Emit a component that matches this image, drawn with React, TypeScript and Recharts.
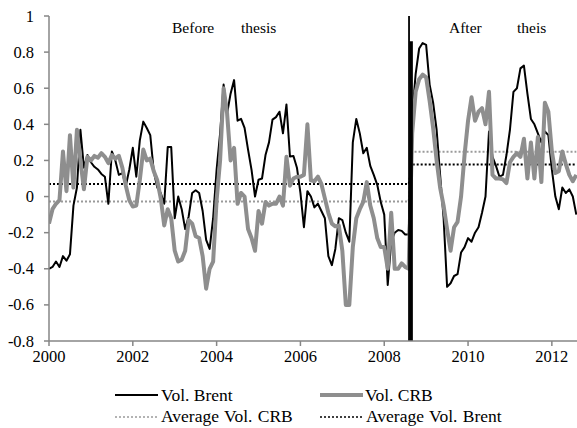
import React from 'react';
import { LineChart, Line, XAxis, YAxis, ReferenceLine } from 'recharts';

const SERIF = "'Liberation Serif', 'Times New Roman', serif";

// Monthly observations, Jan 2000 (index 0) .. Aug 2012 (index 151)
const brentVol: number[] = [
  -0.40, -0.39, -0.36, -0.39, -0.33, -0.355, -0.32, -0.05, 0.05, 0.37,
  0.16, 0.23, 0.19, 0.165, 0.15, 0.125, 0.11, -0.04, 0.25, 0.20,
  0.12, 0.13, 0.06, 0.15, 0.27, 0.11, 0.31, 0.415, 0.38, 0.34,
  0.14, 0.05, 0.02, -0.04, 0.274, 0.274, -0.12, 0.0, -0.07, -0.18,
  -0.11, 0.02, 0.035, 0.02, -0.08, -0.24, -0.29, -0.12, 0.15, 0.35,
  0.62, 0.46, 0.57, 0.645, 0.42, 0.43, 0.38, 0.26, 0.148, 0.0,
  0.093, 0.10, 0.23, 0.30, 0.426, 0.44, 0.47, 0.35, 0.51, 0.222,
  0.225, 0.16, 0.02, -0.17, 0.03, 0.0, -0.06, -0.04, -0.08, -0.12,
  -0.33, -0.38, -0.29, -0.12, -0.13, -0.20, -0.25, 0.30, 0.43, 0.35,
  0.24, 0.27, 0.17, 0.12, 0.065, -0.03, -0.10, -0.49, -0.25, -0.20,
  -0.185, -0.19, -0.21, -0.21, 0.45, 0.68, 0.82, 0.85, 0.84, 0.62,
  0.52, 0.37, 0.12, -0.12, -0.50, -0.48, -0.44, -0.43, -0.31, -0.28,
  -0.23, -0.25, -0.20, -0.17, -0.09, 0.0, 0.36, 0.22, 0.17, 0.11,
  0.12, 0.23, 0.37, 0.58, 0.60, 0.71, 0.725, 0.57, 0.43, 0.40,
  0.35, 0.30, 0.36, 0.34, 0.15, 0.0, -0.07, 0.05, 0.02, 0.04,
  0.0, -0.1,
];

const crbVol: number[] = [
  -0.15, -0.07, -0.04, -0.02, 0.25, 0.03, 0.34, 0.05, 0.37, 0.20,
  0.04, 0.22, 0.20, 0.225, 0.215, 0.24, 0.22, 0.185, 0.23, 0.21,
  0.226, 0.16, 0.06, -0.02, -0.055, -0.05, 0.09, 0.26, 0.20, 0.21,
  0.14, 0.09, -0.01, -0.16, -0.07, -0.12, -0.30, -0.36, -0.35, -0.30,
  -0.13, -0.15, -0.22, -0.23, -0.33, -0.51, -0.40, -0.36, -0.02, 0.20,
  0.60, 0.46, 0.20, 0.27, -0.04, 0.02, 0.0, -0.18, -0.23, -0.30,
  -0.08, -0.15, -0.03, -0.05, -0.04, -0.04, 0.0, -0.05, 0.22, 0.06,
  0.10, 0.11, 0.11, 0.12, 0.40, 0.09, 0.085, 0.11, 0.07, -0.01,
  -0.09, -0.15, -0.165, -0.16, -0.30, -0.60, -0.60, -0.28, -0.12, -0.07,
  -0.03, 0.08, -0.05, -0.12, -0.23, -0.28, -0.28, -0.40, -0.09, -0.40,
  -0.40, -0.37, -0.39, -0.40, 0.35, 0.58, 0.65, 0.675, 0.66, 0.53,
  0.38, 0.20, 0.05, -0.05, -0.18, -0.30, -0.17, -0.14, 0.0, 0.23,
  0.42, 0.55, 0.42, 0.47, 0.49, 0.40, 0.58, 0.12, 0.10, 0.10,
  0.095, 0.075, 0.19, 0.22, 0.24, 0.22, 0.32, 0.10, 0.30, 0.10,
  0.33, 0.08, 0.52, 0.47, 0.25, 0.13, 0.14, 0.25, 0.18, 0.12,
  0.085, 0.12,
];

const startYear = 2000;
const monthIndex: number[] = brentVol.map((_, i) => i);

// Average lines: before / after the break (month indices and values)
const avgMonths: number[] = [0, 103, 104, 151];
const avgBrentValues: number[] = [0.07, 0.07, 0.178, 0.178];
const avgCrbValues: number[] = [-0.028, -0.028, 0.248, 0.248];

const breakMonth = 103.7;

const xTicks: number[] = [2000, 2002, 2004, 2006, 2008, 2010, 2012];
const yTicks: number[] = [-0.8, -0.6, -0.4, -0.2, 0, 0.2, 0.4, 0.6, 0.8, 1];

const toYear = (m: number) => startYear + m / 12;

const mainData = monthIndex.map((m) => ({ t: toYear(m), brent: brentVol[m], crb: crbVol[m] }));
const avgBrentData = avgMonths.map((m, i) => ({ t: toYear(m), v: avgBrentValues[i] }));
const avgCrbData = avgMonths.map((m, i) => ({ t: toYear(m), v: avgCrbValues[i] }));

const AXIS = '#868686';
const GRAY = '#8e8e8e';
const GRAY_DOT = '#9a9a9a';

const XTick = (props: any) => {
  const { x, y, payload } = props;
  return (
    <text x={x} y={y} dy={12} textAnchor="middle" fontFamily={SERIF} fontSize={16.5} fill="#000">
      {String(payload.value)}
    </text>
  );
};

const YTick = (props: any) => {
  const { x, y, payload } = props;
  return (
    <text x={x} y={y} dy={5.5} textAnchor="end" fontFamily={SERIF} fontSize={16.5} fill="#000">
      {String(Math.round(payload.value * 10) / 10)}
    </text>
  );
};

export default function App() {
  const breakT = toYear(breakMonth);
  return (
    <div style={{ position: 'absolute', left: 0, top: 0, width: 577, height: 428, background: '#fff', fontFamily: SERIF }}>
      <LineChart
        width={577}
        height={428}
        data={mainData}
        margin={{ top: 16, right: 0, bottom: 57, left: 0 }}
      >
        <XAxis
          dataKey="t"
          type="number"
          domain={[2000, 2012.6]}
          ticks={xTicks}
          allowDataOverflow
          height={30}
          stroke={AXIS}
          strokeWidth={1.5}
          tickSize={5}
          tickMargin={4}
          tick={<XTick />}
        />
        <YAxis
          type="number"
          domain={[-0.8, 1]}
          ticks={yTicks}
          allowDataOverflow
          width={49}
          stroke={AXIS}
          strokeWidth={1.5}
          tickSize={5}
          tickMargin={10}
          tick={<YTick />}
        />
        <Line
          data={avgCrbData}
          dataKey="v"
          stroke={GRAY_DOT}
          strokeWidth={2}
          strokeDasharray="2 2"
          dot={false}
          isAnimationActive={false}
          name="Average Vol. CRB"
        />
        <Line
          data={avgBrentData}
          dataKey="v"
          stroke="#000"
          strokeWidth={2}
          strokeDasharray="2 2"
          dot={false}
          isAnimationActive={false}
          name="Average Vol. Brent"
        />
        <Line
          dataKey="brent"
          stroke="#000"
          strokeWidth={2}
          strokeLinejoin="round"
          dot={false}
          isAnimationActive={false}
          name="Vol. Brent"
        />
        <Line
          dataKey="crb"
          stroke={GRAY}
          strokeWidth={4}
          strokeLinejoin="round"
          dot={false}
          isAnimationActive={false}
          name="Vol. CRB"
        />
        <ReferenceLine
          segment={[{ x: breakT - 0.05, y: -0.8 }, { x: breakT - 0.05, y: 1 }]}
          stroke="#000"
          strokeWidth={1.8}
        />
        <ReferenceLine
          segment={[{ x: breakT, y: -0.8 }, { x: breakT, y: 0.86 }]}
          stroke="#000"
          strokeWidth={3.5}
        />
      </LineChart>
      <svg
        width={577}
        height={428}
        style={{ position: 'absolute', left: 0, top: 0, pointerEvents: 'none' }}
      >
        <g fontFamily={SERIF} fontSize={15.5} fill="#000">
          <text x={172} y={33}>Before</text>
          <text x={241} y={33}>thesis</text>
          <text x={449} y={33}>After</text>
          <text x={517} y={33}>theis</text>
        </g>
        <g fontFamily={SERIF} fontSize={17.5} fill="#000">
          <line x1={115} y1={395} x2={158} y2={395} stroke="#000" strokeWidth={2} />
          <text x={161} y={401}>Vol. Brent</text>
          <line x1={320} y1={395} x2={363} y2={395} stroke={GRAY} strokeWidth={4} />
          <text x={365} y={401}>Vol. CRB</text>
          <line x1={115} y1={417} x2={158} y2={417} stroke={GRAY_DOT} strokeWidth={1.5} strokeDasharray="2 2" />
          <text x={161} y={422} wordSpacing={1}>Average Vol. CRB</text>
          <line x1={320} y1={417} x2={363} y2={417} stroke="#000" strokeWidth={1.5} strokeDasharray="2 2" />
          <text x={366} y={422} wordSpacing={1}>Average Vol. Brent</text>
        </g>
      </svg>
    </div>
  );
}
